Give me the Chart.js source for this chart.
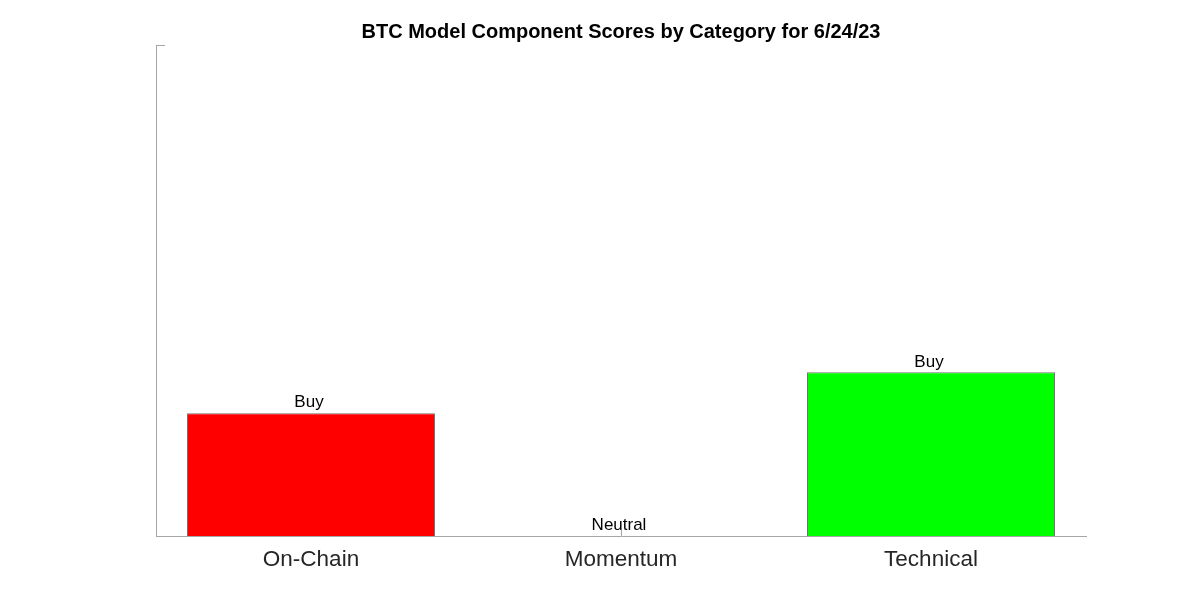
<!DOCTYPE html>
<html>
<head>
<meta charset="utf-8">
<script src="https://cdn.jsdelivr.net/npm/chart.js@4.4.0/dist/chart.umd.min.js"></script>
<style>
html,body{margin:0;padding:0;background:#fff;}
#wrap{width:1200px;height:602px;}
</style>
</head>
<body>
<div id="wrap"><canvas id="c" width="1200" height="602"></canvas></div>
<script>
const categories = ["On-Chain", "Momentum", "Technical"];
const scores = [0.75, 0, 1.0];
const signals = ["Buy", "Neutral", "Buy"];
const barColors = ["#ff0000", "#ffffff", "#00ff00"];
const yMin = 0;
const yMax = 3;

const axisColor = "#a6a6a6";
const fontFam = "'Liberation Sans', Arial, Helvetica, sans-serif";

const extrasPlugin = {
  id: "extras",
  beforeDatasetsDraw(chart) {
    const ctx = chart.ctx;
    const x = chart.scales.x, y = chart.scales.y;
    ctx.save();
    ctx.strokeStyle = axisColor;
    ctx.lineWidth = 1;
    x.ticks.forEach((t, i) => {
      const px = Math.round(x.getPixelForTick(i)) + 0.5;
      ctx.beginPath();
      ctx.moveTo(px, y.bottom);
      ctx.lineTo(px, y.bottom - 6);
      ctx.stroke();
    });
    const py = Math.round(y.getPixelForValue(yMax)) + 0.5;
    ctx.beginPath();
    ctx.moveTo(x.left, py);
    ctx.lineTo(x.left + 9, py);
    ctx.stroke();
    ctx.restore();
  },
  afterDatasetsDraw(chart) {
    const ctx = chart.ctx;
    ctx.save();
    const meta = chart.getDatasetMeta(0);
    ctx.fillStyle = "#000";
    ctx.font = "17px " + fontFam;
    ctx.textAlign = "center";
    ctx.textBaseline = "bottom";
    meta.data.forEach((bar, i) => {
      ctx.fillText(signals[i], bar.x - 2, bar.y - 2);
    });
    ctx.restore();
  }
};

new Chart(document.getElementById("c"), {
  type: "bar",
  data: {
    labels: categories,
    datasets: [{
      data: scores,
      backgroundColor: barColors,
      borderColor: "rgba(90,90,90,0.85)",
      borderWidth: 1,
      borderSkipped: "bottom",
      categoryPercentage: 0.8,
      barPercentage: 1.0
    }]
  },
  options: {
    responsive: false,
    animation: false,
    devicePixelRatio: 1,
    layout: { padding: { left: 156, right: 114, top: 0, bottom: 0 } },
    plugins: {
      legend: { display: false },
      tooltip: { enabled: false },
      title: {
        display: true,
        text: "BTC Model Component Scores by Category for 6/24/23",
        color: "#000",
        font: { family: fontFam, size: 20, weight: "bold" },
        padding: { top: 20, bottom: 1 }
      }
    },
    scales: {
      x: {
        grid: { display: false },
        border: { display: true, color: axisColor, width: 1 },
        ticks: { color: "#262626", font: { family: fontFam, size: 22.5 }, padding: 2 },
        afterFit(s) { s.height = 66; }
      },
      y: {
        min: yMin,
        max: yMax,
        grid: { display: false },
        border: { display: true, color: axisColor, width: 1 },
        ticks: { display: false },
        afterFit(s) { s.width = 0; }
      }
    }
  },
  plugins: [extrasPlugin]
});
</script>
</body>
</html>
